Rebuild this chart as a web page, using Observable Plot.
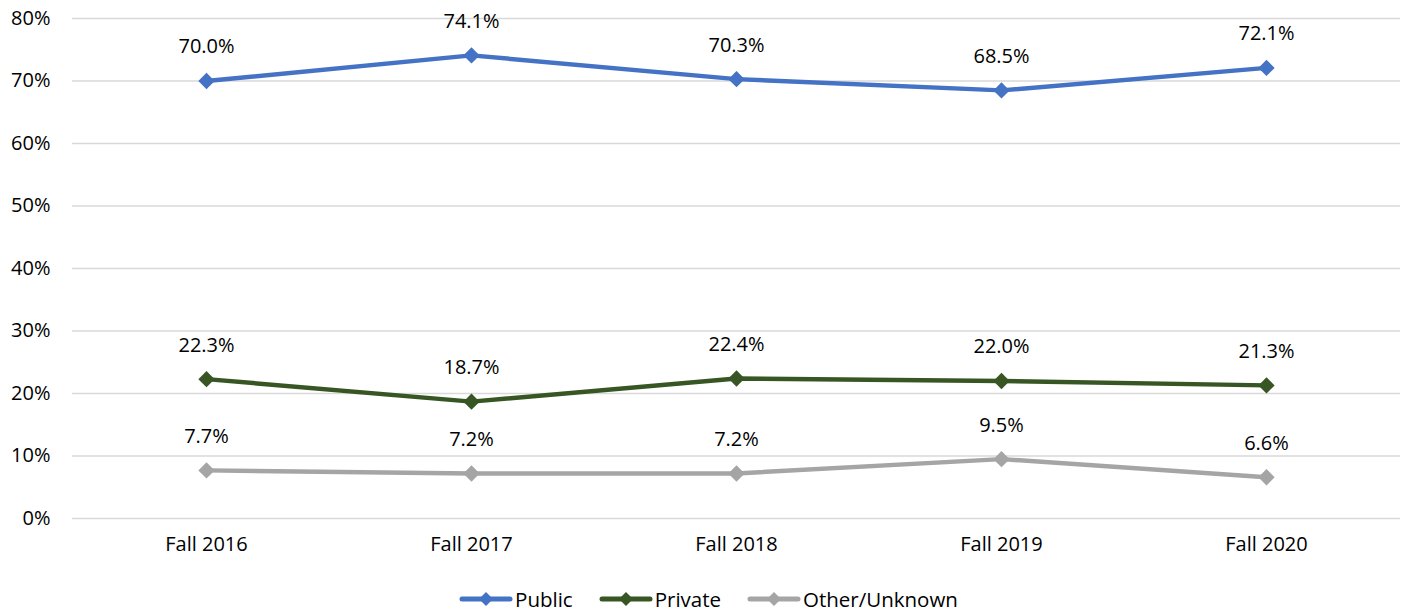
<!DOCTYPE html>
<html>
<head>
<meta charset="utf-8">
<script src="https://cdn.jsdelivr.net/npm/d3@7"></script>
<script src="https://cdn.jsdelivr.net/npm/@observablehq/plot@0.6"></script>
<style>
  body { margin: 0; background: #fff; font-family: "Open Sans", Arial, sans-serif; }
  #legend { display: flex; justify-content: center; align-items: center; gap: 26px; height: 34px; margin-top: 2px; font-size: 20.5px; color: #000; padding-left: 12px; }
  .item { display: flex; align-items: center; gap: 2px; }
</style>
</head>
<body>
<div id="chart"></div>
<div id="legend"></div>
<script>
const categories = ["Fall 2016", "Fall 2017", "Fall 2018", "Fall 2019", "Fall 2020"];
const publicVals = [70.0, 74.1, 70.3, 68.5, 72.1];
const privateVals = [22.3, 18.7, 22.4, 22.0, 21.3];
const otherVals = [7.7, 7.2, 7.2, 9.5, 6.6];
const seriesNames = ["Public", "Private", "Other/Unknown"];
const seriesColors = ["#4472C4", "#375623", "#A5A5A5"];
const yTicks = [0, 10, 20, 30, 40, 50, 60, 70, 80];

const seriesVals = [publicVals, privateVals, otherVals];
const data = [];
seriesNames.forEach((s, i) => {
  categories.forEach((c, j) => data.push({series: s, cat: c, value: seriesVals[i][j]}));
});

const squareDiamond = {
  draw(ctx, size) {
    const r = Math.sqrt(size / 2);
    ctx.moveTo(0, -r); ctx.lineTo(r, 0); ctx.lineTo(0, r); ctx.lineTo(-r, 0); ctx.closePath();
  }
};

const chart = Plot.plot({
  width: 1405,
  height: 580,
  marginLeft: 72,
  marginRight: 5,
  marginTop: 18,
  marginBottom: 62,
  style: {fontFamily: "Open Sans, Arial, sans-serif", fontSize: "20px", color: "#000", background: "#fff"},
  x: {type: "point", domain: categories, padding: 0.5, label: null},
  y: {domain: [0, 80], ticks: yTicks, label: null},
  color: {domain: seriesNames, range: seriesColors},
  marks: [
    Plot.ruleY(yTicks, {stroke: "#D9D9D9", strokeWidth: 1.5}),
    Plot.axisY({ticks: yTicks, tickSize: 0, tickPadding: 22, tickFormat: d => d + "%", fontSize: 20, label: null}),
    Plot.axisX({tickSize: 0, tickPadding: 18, fontSize: 20, label: null}),
    Plot.line(data, {x: "cat", y: "value", z: "series", stroke: "series", strokeWidth: 4.5, curve: "linear"}),
    Plot.dot(data, {x: "cat", y: "value", fill: "series", symbol: squareDiamond, r: 6.5, stroke: null}),
    Plot.text(data, {x: "cat", y: "value", text: d => d.value.toFixed(1) + "%", dy: -34, fontSize: 20, fill: "#000"})
  ]
});
document.getElementById("chart").appendChild(chart);

const legend = document.getElementById("legend");
seriesNames.forEach((s, i) => {
  const item = document.createElement("div");
  item.className = "item";
  item.innerHTML = `<svg width="54" height="16"><line x1="3" y1="8" x2="51" y2="8" stroke="${seriesColors[i]}" stroke-width="5" stroke-linecap="round"/><path d="M27,1 L34,8 L27,15 L20,8 Z" fill="${seriesColors[i]}"/></svg><span>${s}</span>`;
  legend.appendChild(item);
});
</script>
</body>
</html>
